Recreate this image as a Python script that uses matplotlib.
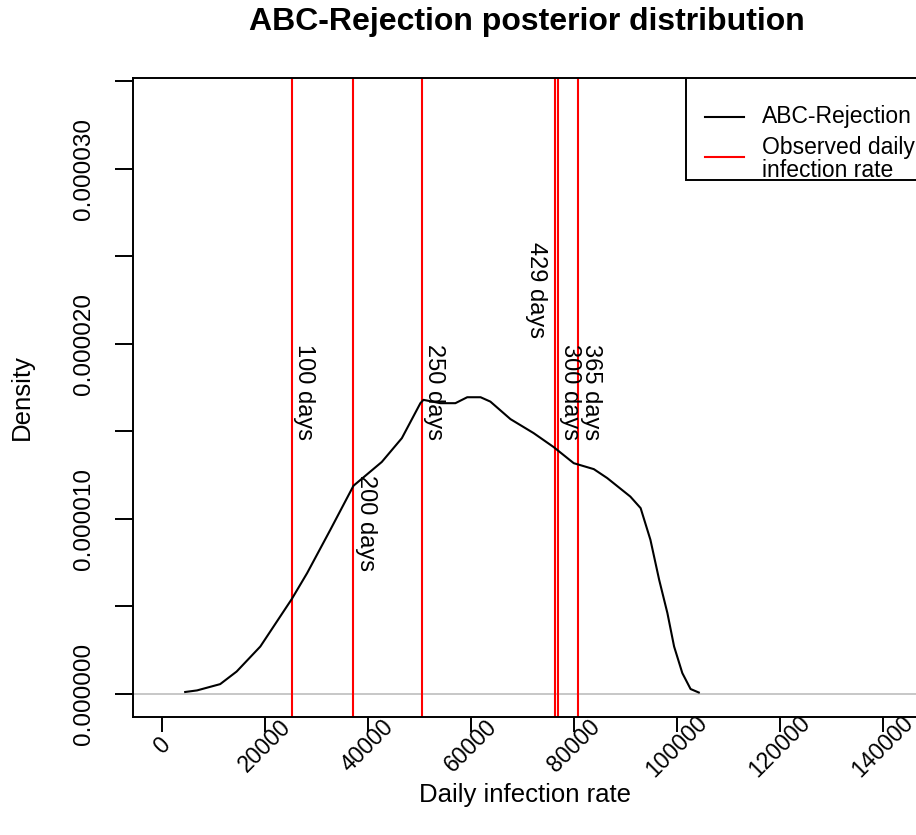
import matplotlib
matplotlib.use('Agg')
import matplotlib.pyplot as plt
from matplotlib.patches import Rectangle

# Font like the R/Windows default (Arial metrics)
plt.rcParams['font.family'] = ['Liberation Sans', 'DejaVu Sans']

# Posterior density curve
rate = [4500, 6800, 11300, 14500, 19100, 25200, 28200, 32700, 37200, 42700,
        46600, 50200, 50800, 54100, 57000, 59300, 61900, 63800, 67700, 72200,
        76100, 80000, 83900, 86500, 91000, 93000, 94900, 96600, 98200, 99500,
        101100, 102700, 104300]
density = [0.10, 0.19, 0.55, 1.27, 2.70, 5.41, 6.90, 9.37, 11.89, 13.25,
           14.61, 16.61, 16.80, 16.61, 16.61, 16.95, 16.95, 16.70, 15.70, 14.90,
           14.10, 13.18, 12.84, 12.33, 11.27, 10.61, 8.80, 6.51, 4.61, 2.70,
           1.18, 0.27, 0.07]
density = [d * 1e-6 for d in density]

# Observed daily infection rates and their labels
observed_labels = ['100 days', '200 days', '250 days', '429 days', '300 days', '365 days']
observed_rate = [25200, 37200, 50500, 76300, 76950, 80900]
label_y = [2.0e-5, 1.25e-5, 2.0e-5, 2.58e-5, 2.0e-5, 2.0e-5]

# Axis ticks
xticks = [0, 20000, 40000, 60000, 80000, 100000, 120000, 140000]
yticks = [0, 5e-6, 1e-5, 1.5e-5, 2e-5, 2.5e-5, 3e-5, 3.5e-5]
ytick_labels = ['0.000000', '', '0.000010', '', '0.000020', '', '0.000030', '']

W, H = 916, 835
fig = plt.figure(figsize=(W / 100, H / 100), dpi=100)
# plot box in pixels: left 133, right 917, top 78, bottom 717
ax = fig.add_axes([133 / W, (H - 717) / H, (917 - 133) / W, (717 - 78) / H])

# Zero line like R's density plot
ax.axhline(0, color='#bebebe', linewidth=1.2, zorder=1)

# Density curve
ax.plot(rate, density, color='black', linewidth=1.5, zorder=3)

# Observed rates as vertical red lines with rotated labels
for lab, x, y in zip(observed_labels, observed_rate, label_y):
    ax.axvline(x, color='red', linewidth=1.5, zorder=2)
    # the 429 days label sits left of its line so it does not overlap
    tx = x - 6000 if lab == '429 days' else x
    ax.annotate(lab, xy=(tx, y), xytext=(1, 0), textcoords='offset points',
                rotation=-90, rotation_mode='anchor', ha='left', va='bottom',
                fontsize=17, zorder=4)

ax.set_xlim(-5642, 146700)
ax.set_ylim(-1.33e-6, 3.52e-5)

ax.set_xticks(xticks)
ax.set_xticklabels([str(t) for t in xticks], rotation=45, ha='center', va='center',
                   rotation_mode='anchor', fontsize=16.5)
ax.set_yticks(yticks)
ax.set_yticklabels(ytick_labels, rotation=90, ha='center', va='center',
                   rotation_mode='anchor', fontsize=17.5)
ax.tick_params(axis='x', length=11, width=1.4, pad=10)
ax.tick_params(axis='y', length=13, width=1.4, pad=22)

for s in ax.spines.values():
    s.set_linewidth(1.4)

# Labels and title
ax.set_xlabel('Daily infection rate', fontsize=18.5, va='center')
ax.xaxis.set_label_coords(0.5, (717 - 795) / (717 - 78))
ax.set_ylabel('Density', fontsize=18.5, va='center')
ax.yaxis.set_label_coords((22 - 133) / (917 - 133), 0.5)
fig.text(527 / W, 1 - 22 / H, 'ABC-Rejection posterior distribution',
         fontsize=23, fontweight='bold', ha='center', va='center')

# R style legend in the top right corner (drawn in axes fraction)
def fx(px):
    return (px - 133) / (917 - 133)


def fy(py):
    return (717 - py) / (717 - 78)


ax.add_patch(Rectangle((fx(686), fy(180)), 1 - fx(686), 1 - fy(180), transform=ax.transAxes,
                       facecolor='white', edgecolor='black', linewidth=1.4, zorder=5))
ax.plot([fx(705), fx(744)], [fy(117), fy(117)], color='black', linewidth=1.5,
        transform=ax.transAxes, zorder=6)
ax.plot([fx(705), fx(744)], [fy(157), fy(157)], color='red', linewidth=1.5,
        transform=ax.transAxes, zorder=6)
ax.text(fx(762), fy(117), 'ABC-Rejection', fontsize=16.5, va='center', ha='left',
        transform=ax.transAxes, zorder=6)
ax.text(fx(762), fy(159), 'Observed daily\ninfection rate', fontsize=16.5, va='center',
        ha='left', linespacing=0.95, transform=ax.transAxes, zorder=6)

fig.savefig('out.png', dpi=100)
